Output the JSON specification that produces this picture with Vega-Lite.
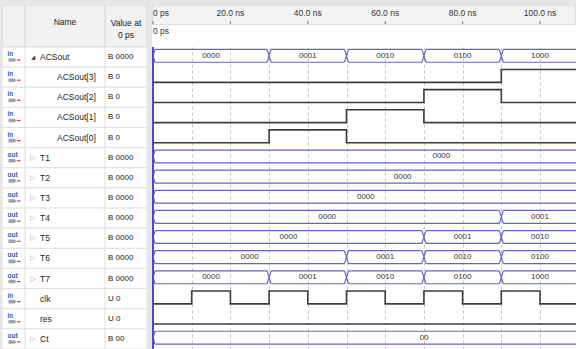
{
  "$schema": "https://vega.github.io/schema/vega-lite/v6.json",
  "background": "#e6e6e6",
  "padding": {"left": 2, "top": 5, "right": 0, "bottom": 0},
  "spacing": 5,
  "config": {
    "view": {"stroke": null, "fill": "white"},
    "text": {"font": "Liberation Sans", "fontSize": 8.5, "color": "#222222", "clip": true},
    "concat": {"spacing": 0}
  },
  "datasets": {
    "signals": [
      {"sig": "ACSout", "dir": "in", "kind": "group", "val": "B 0000"},
      {"sig": "ACSout[3]", "dir": "in", "kind": "child", "val": "B 0"},
      {"sig": "ACSout[2]", "dir": "in", "kind": "child", "val": "B 0"},
      {"sig": "ACSout[1]", "dir": "in", "kind": "child", "val": "B 0"},
      {"sig": "ACSout[0]", "dir": "in", "kind": "child", "val": "B 0"},
      {"sig": "T1", "dir": "out", "kind": "bus", "val": "B 0000"},
      {"sig": "T2", "dir": "out", "kind": "bus", "val": "B 0000"},
      {"sig": "T3", "dir": "out", "kind": "bus", "val": "B 0000"},
      {"sig": "T4", "dir": "out", "kind": "bus", "val": "B 0000"},
      {"sig": "T5", "dir": "out", "kind": "bus", "val": "B 0000"},
      {"sig": "T6", "dir": "out", "kind": "bus", "val": "B 0000"},
      {"sig": "T7", "dir": "out", "kind": "bus", "val": "B 0000"},
      {"sig": "clk", "dir": "in", "kind": "bit", "val": "U 0"},
      {"sig": "res", "dir": "in", "kind": "bit", "val": "U 0"},
      {"sig": "Ct", "dir": "out", "kind": "bus", "val": "B 00"}
    ],
    "bus": [
      {"sig": "ACSout", "start": 0, "end": 30, "val": "0000"},
      {"sig": "ACSout", "start": 30, "end": 50, "val": "0001"},
      {"sig": "ACSout", "start": 50, "end": 70, "val": "0010"},
      {"sig": "ACSout", "start": 70, "end": 90, "val": "0100"},
      {"sig": "ACSout", "start": 90, "end": 110, "val": "1000"},
      {"sig": "T1", "start": 0, "end": 149, "val": "0000"},
      {"sig": "T2", "start": 0, "end": 129, "val": "0000"},
      {"sig": "T3", "start": 0, "end": 110, "val": "0000"},
      {"sig": "T4", "start": 0, "end": 90, "val": "0000"},
      {"sig": "T4", "start": 90, "end": 110, "val": "0001"},
      {"sig": "T5", "start": 0, "end": 70, "val": "0000"},
      {"sig": "T5", "start": 70, "end": 90, "val": "0001"},
      {"sig": "T5", "start": 90, "end": 110, "val": "0010"},
      {"sig": "T6", "start": 0, "end": 50, "val": "0000"},
      {"sig": "T6", "start": 50, "end": 70, "val": "0001"},
      {"sig": "T6", "start": 70, "end": 90, "val": "0010"},
      {"sig": "T6", "start": 90, "end": 110, "val": "0100"},
      {"sig": "T7", "start": 0, "end": 30, "val": "0000"},
      {"sig": "T7", "start": 30, "end": 50, "val": "0001"},
      {"sig": "T7", "start": 50, "end": 70, "val": "0010"},
      {"sig": "T7", "start": 70, "end": 90, "val": "0100"},
      {"sig": "T7", "start": 90, "end": 110, "val": "1000"},
      {"sig": "Ct", "start": 0, "end": 140, "val": "00"}
    ],
    "bits": [
      {"sig": "ACSout[3]", "start": 0, "end": 90, "level": 0},
      {"sig": "ACSout[3]", "start": 90, "end": 110, "level": 1},
      {"sig": "ACSout[2]", "start": 0, "end": 70, "level": 0},
      {"sig": "ACSout[2]", "start": 70, "end": 90, "level": 1},
      {"sig": "ACSout[2]", "start": 90, "end": 110, "level": 0},
      {"sig": "ACSout[1]", "start": 0, "end": 50, "level": 0},
      {"sig": "ACSout[1]", "start": 50, "end": 70, "level": 1},
      {"sig": "ACSout[1]", "start": 70, "end": 110, "level": 0},
      {"sig": "ACSout[0]", "start": 0, "end": 30, "level": 0},
      {"sig": "ACSout[0]", "start": 30, "end": 50, "level": 1},
      {"sig": "ACSout[0]", "start": 50, "end": 110, "level": 0},
      {"sig": "clk", "start": 0, "end": 10, "level": 0},
      {"sig": "clk", "start": 10, "end": 20, "level": 1},
      {"sig": "clk", "start": 20, "end": 30, "level": 0},
      {"sig": "clk", "start": 30, "end": 40, "level": 1},
      {"sig": "clk", "start": 40, "end": 50, "level": 0},
      {"sig": "clk", "start": 50, "end": 60, "level": 1},
      {"sig": "clk", "start": 60, "end": 70, "level": 0},
      {"sig": "clk", "start": 70, "end": 80, "level": 1},
      {"sig": "clk", "start": 80, "end": 90, "level": 0},
      {"sig": "clk", "start": 90, "end": 100, "level": 1},
      {"sig": "clk", "start": 100, "end": 110, "level": 0},
      {"sig": "res", "start": 0, "end": 110, "level": 0}
    ],
    "ticks": [
      {"t": 0, "lab": "0 ps"},
      {"t": 20, "lab": "20.0 ns"},
      {"t": 40, "lab": "40.0 ns"},
      {"t": 60, "lab": "60.0 ns"},
      {"t": 80, "lab": "80.0 ns"},
      {"t": 100, "lab": "100.0 ns"}
    ]
  },
  "hconcat": [
    {
      "spacing": 0,
      "hconcat": [
        {
          "bounds": "flush",
          "spacing": 0,
          "vconcat": [
            {"width": 23, "height": 42, "data": {"values": [{}]}, "mark": {"type": "rect", "fill": "#f2f2f2", "stroke": "#d2d2d2", "strokeWidth": 1, "clip": true}},
            {
              "width": 23, "height": 302, "data": {"name": "signals"},
              "encoding": {"y": {"field": "sig", "type": "nominal", "scale": {"domain": ["ACSout","ACSout[3]","ACSout[2]","ACSout[1]","ACSout[0]","T1","T2","T3","T4","T5","T6","T7","clk","res","Ct"], "paddingInner": 0, "paddingOuter": 0}, "axis": null}},
              "layer": [
                {"mark": {"type": "rect", "fill": "white", "stroke": "#e0e0e0", "strokeWidth": 1, "clip": true}},
                {"mark": {"type": "point", "shape": "M-1,-0.45L0.55,-0.45L1,0L0.55,0.45L-1,0.45Z", "filled": true, "size": 64, "color": "#9ea4b0", "opacity": 1, "yOffset": 3, "xOffset": -1, "clip": true}},
                {"mark": {"type": "point", "shape": "M1.1,0L2,0", "filled": false, "size": 64, "color": "#d83a3a", "strokeWidth": 1.2, "opacity": 1, "yOffset": 3, "xOffset": -1, "clip": true}},
                {"mark": {"type": "text", "fontSize": 6.5, "fontWeight": "bold", "color": "#2858c0", "align": "left", "dx": -6, "dy": -3}, "encoding": {"text": {"field": "dir"}}}
              ]
            }
          ]
        },
        {
          "bounds": "flush",
          "spacing": 0,
          "vconcat": [
            {"width": 80, "height": 42, "data": {"values": [{}]},
             "layer": [
               {"mark": {"type": "rect", "fill": "#f2f2f2", "stroke": "#d2d2d2", "strokeWidth": 1, "clip": true}},
               {"mark": {"type": "text", "text": "Name", "dy": -4}}
             ]},
            {
              "width": 80, "height": 302, "data": {"name": "signals"},
              "encoding": {"y": {"field": "sig", "type": "nominal", "scale": {"domain": ["ACSout","ACSout[3]","ACSout[2]","ACSout[1]","ACSout[0]","T1","T2","T3","T4","T5","T6","T7","clk","res","Ct"], "paddingInner": 0, "paddingOuter": 0}, "axis": null}},
              "layer": [
                {"mark": {"type": "rect", "fill": "white", "stroke": "#e0e0e0", "strokeWidth": 1, "clip": true}},
                {"transform": [{"filter": "datum.kind != 'child'"}], "mark": {"type": "text", "align": "left", "dx": -25}, "encoding": {"text": {"field": "sig"}}},
                {"transform": [{"filter": "datum.kind == 'child'"}], "mark": {"type": "text", "align": "left", "dx": -8}, "encoding": {"text": {"field": "sig"}}},
                {"transform": [{"filter": "datum.kind == 'group'"}], "mark": {"type": "text", "text": "◢", "font": "DejaVu Sans", "fontSize": 5.5, "color": "#333333", "dx": -32}},
                {"transform": [{"filter": "datum.kind == 'bus'"}], "mark": {"type": "text", "text": "▷", "font": "DejaVu Sans", "fontSize": 7, "color": "#a0a0a0", "dx": -32}}
              ]
            }
          ]
        },
        {
          "bounds": "flush",
          "spacing": 0,
          "vconcat": [
            {"width": 42, "height": 42, "data": {"values": [{}]},
             "layer": [
               {"mark": {"type": "rect", "fill": "#f2f2f2", "stroke": "#d2d2d2", "strokeWidth": 1, "clip": true}},
               {"mark": {"type": "text", "text": ["Value at", "0 ps"], "lineHeight": 12, "dy": -3}}
             ]},
            {
              "width": 42, "height": 302, "data": {"name": "signals"},
              "encoding": {"y": {"field": "sig", "type": "nominal", "scale": {"domain": ["ACSout","ACSout[3]","ACSout[2]","ACSout[1]","ACSout[0]","T1","T2","T3","T4","T5","T6","T7","clk","res","Ct"], "paddingInner": 0, "paddingOuter": 0}, "axis": null}},
              "layer": [
                {"mark": {"type": "rect", "fill": "white", "stroke": "#e0e0e0", "strokeWidth": 1, "clip": true}},
                {"mark": {"type": "text", "align": "left", "dx": -18, "fontSize": 8}, "encoding": {"text": {"field": "val"}}}
              ]
            }
          ]
        }
      ]
    },
    {
      "bounds": "flush",
      "spacing": 0,
      "vconcat": [
        {
          "width": 424, "height": 20, "data": {"name": "ticks"},
          "layer": [
            {"data": {"values": [{}]}, "mark": {"type": "rect", "fill": "#f3f3f3", "stroke": "#c8c8c8", "strokeWidth": 1, "clip": true}},
            {"mark": {"type": "tick", "orient": "vertical", "size": 3, "thickness": 1, "color": "#444444", "yOffset": 7.5, "clip": true}, "encoding": {"x": {"field": "t", "type": "quantitative", "scale": {"domain": [-0.26, 109.3], "nice": false, "zero": false}, "axis": null}}},
            {"transform": [{"filter": "datum.t == 0"}], "mark": {"type": "text", "align": "left", "dy": -2, "color": "#333333"}, "encoding": {"x": {"field": "t", "type": "quantitative", "scale": {"domain": [-0.26, 109.3], "nice": false, "zero": false}, "axis": null}, "text": {"field": "lab"}}},
            {"transform": [{"filter": "datum.t > 0"}], "mark": {"type": "text", "align": "center", "dy": -2, "color": "#333333"}, "encoding": {"x": {"field": "t", "type": "quantitative", "scale": {"domain": [-0.26, 109.3], "nice": false, "zero": false}, "axis": null}, "text": {"field": "lab"}}}
          ]
        },
        {
          "width": 424, "height": 22, "data": {"values": [{"t": 0, "lab": "0 ps"}]},
          "mark": {"type": "text", "align": "left", "dy": -5, "color": "#333333"},
          "encoding": {"x": {"field": "t", "type": "quantitative", "scale": {"domain": [-0.26, 109.3], "nice": false, "zero": false}, "axis": null}, "text": {"field": "lab"}}
        },
        {
          "width": 424, "height": 302,
          "layer": [
            {
              "data": {"name": "bits"}, "transform": [{"filter": "datum.level == 1"}],
              "mark": {"type": "rule", "color": "#3c3c3c", "strokeWidth": 1.6, "strokeCap": "square", "yOffset": -7.7, "clip": true},
              "encoding": {
                "x": {"field": "start", "type": "quantitative", "scale": {"domain": [-0.26, 109.3], "nice": false, "zero": false}, "axis": {"values": [10, 20, 30, 40, 50, 60, 70, 80, 90, 100], "grid": true, "gridDash": [3, 3], "gridColor": "#c4c4c4", "labels": false, "ticks": false, "domain": false, "title": null}},
                "x2": {"field": "end"},
                "y": {"field": "sig", "type": "nominal", "scale": {"domain": ["ACSout","ACSout[3]","ACSout[2]","ACSout[1]","ACSout[0]","T1","T2","T3","T4","T5","T6","T7","clk","res","Ct"], "paddingInner": 0, "paddingOuter": 0}, "axis": null}
              }
            },
            {
              "data": {"name": "bits"}, "transform": [{"filter": "datum.level == 0"}],
              "mark": {"type": "rule", "color": "#3c3c3c", "strokeWidth": 1.6, "strokeCap": "square", "yOffset": 5.2, "clip": true},
              "encoding": {
                "x": {"field": "start", "type": "quantitative"},
                "x2": {"field": "end"},
                "y": {"field": "sig", "type": "nominal", "scale": {"domain": ["ACSout","ACSout[3]","ACSout[2]","ACSout[1]","ACSout[0]","T1","T2","T3","T4","T5","T6","T7","clk","res","Ct"], "paddingInner": 0, "paddingOuter": 0}, "axis": null}
              }
            },
            {
              "data": {"name": "bits"}, "transform": [{"filter": "datum.start > 0"}],
              "mark": {"type": "tick", "orient": "vertical", "color": "#3c3c3c", "thickness": 1.6, "size": 12.9, "yOffset": -1.25, "opacity": 1, "clip": true},
              "encoding": {
                "x": {"field": "start", "type": "quantitative"},
                "y": {"field": "sig", "type": "nominal", "scale": {"domain": ["ACSout","ACSout[3]","ACSout[2]","ACSout[1]","ACSout[0]","T1","T2","T3","T4","T5","T6","T7","clk","res","Ct"], "paddingInner": 0, "paddingOuter": 0}, "axis": null}
              }
            },
            {
              "data": {"name": "bus"},
              "mark": {"type": "rule", "color": "#6464c8", "strokeWidth": 1.2, "xOffset": 2, "x2Offset": -2, "yOffset": -7.7, "clip": true},
              "encoding": {
                "x": {"field": "start", "type": "quantitative"},
                "x2": {"field": "end"},
                "y": {"field": "sig", "type": "nominal", "scale": {"domain": ["ACSout","ACSout[3]","ACSout[2]","ACSout[1]","ACSout[0]","T1","T2","T3","T4","T5","T6","T7","clk","res","Ct"], "paddingInner": 0, "paddingOuter": 0}, "axis": null}
              }
            },
            {
              "data": {"name": "bus"},
              "mark": {"type": "rule", "color": "#6464c8", "strokeWidth": 1.2, "xOffset": 2, "x2Offset": -2, "yOffset": 5.2, "clip": true},
              "encoding": {
                "x": {"field": "start", "type": "quantitative"},
                "x2": {"field": "end"},
                "y": {"field": "sig", "type": "nominal", "scale": {"domain": ["ACSout","ACSout[3]","ACSout[2]","ACSout[1]","ACSout[0]","T1","T2","T3","T4","T5","T6","T7","clk","res","Ct"], "paddingInner": 0, "paddingOuter": 0}, "axis": null}
              }
            },
            {
              "data": {"name": "bus"}, "transform": [{"filter": "datum.start > 0"}],
              "mark": {"type": "point", "shape": "M-0.31,-1L0,0L-0.31,1M0.31,-1L0,0L0.31,1", "filled": false, "size": 166, "color": "#6464c8", "strokeWidth": 1.2, "opacity": 1, "yOffset": -1.25, "clip": true},
              "encoding": {
                "x": {"field": "start", "type": "quantitative"},
                "y": {"field": "sig", "type": "nominal", "scale": {"domain": ["ACSout","ACSout[3]","ACSout[2]","ACSout[1]","ACSout[0]","T1","T2","T3","T4","T5","T6","T7","clk","res","Ct"], "paddingInner": 0, "paddingOuter": 0}, "axis": null}
              }
            },
            {
              "data": {"name": "bus"}, "transform": [{"filter": "datum.start == 0"}],
              "mark": {"type": "point", "shape": "M0.31,-1L0,0L0.31,1", "filled": false, "size": 166, "color": "#6464c8", "strokeWidth": 1.2, "opacity": 1, "yOffset": -1.25, "clip": true},
              "encoding": {
                "x": {"field": "start", "type": "quantitative"},
                "y": {"field": "sig", "type": "nominal", "scale": {"domain": ["ACSout","ACSout[3]","ACSout[2]","ACSout[1]","ACSout[0]","T1","T2","T3","T4","T5","T6","T7","clk","res","Ct"], "paddingInner": 0, "paddingOuter": 0}, "axis": null}
              }
            },
            {
              "data": {"name": "bus"}, "transform": [{"calculate": "(datum.start + datum.end) / 2", "as": "mid"}],
              "mark": {"type": "text", "fontSize": 8, "color": "#333333", "yOffset": -1.25, "clip": true},
              "encoding": {
                "x": {"field": "mid", "type": "quantitative"},
                "y": {"field": "sig", "type": "nominal", "scale": {"domain": ["ACSout","ACSout[3]","ACSout[2]","ACSout[1]","ACSout[0]","T1","T2","T3","T4","T5","T6","T7","clk","res","Ct"], "paddingInner": 0, "paddingOuter": 0}, "axis": null},
                "text": {"field": "val"}
              }
            },
            {
              "data": {"values": [{"t": 0}]},
              "mark": {"type": "rule", "color": "#4a4ad0", "strokeWidth": 2, "clip": true},
              "encoding": {"x": {"field": "t", "type": "quantitative"}}
            }
          ]
        }
      ]
    }
  ]
}
